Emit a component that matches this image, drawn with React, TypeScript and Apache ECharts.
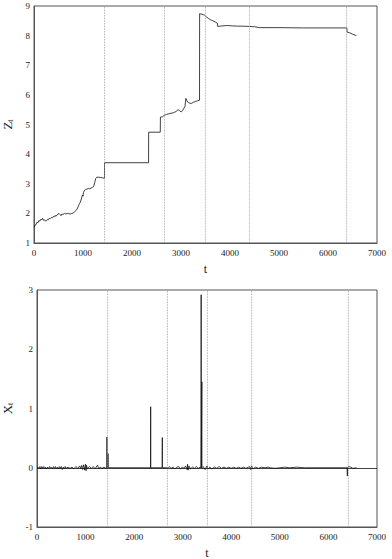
import React, { useEffect, useRef } from "react";
import * as echarts from "echarts";

// Top panel: Z_t  [t, value]
const zSeries: [number, number][] = [
  [0, 1.53], [20, 1.6], [40, 1.62], [60, 1.7], [80, 1.68], [100, 1.76], [120, 1.74], [140, 1.8],
  [160, 1.79], [175, 1.83], [190, 1.77], [210, 1.79], [230, 1.74], [250, 1.75], [270, 1.79],
  [290, 1.78], [310, 1.83], [330, 1.82], [350, 1.86], [370, 1.85], [390, 1.89], [410, 1.88],
  [430, 1.93], [450, 1.9], [470, 1.95], [490, 1.97], [510, 2.0], [530, 1.96], [550, 1.92],
  [570, 1.98], [590, 1.96], [620, 2.0], [650, 1.98], [680, 2.0], [710, 1.99], [740, 1.98],
  [770, 2.0], [800, 2.01], [830, 2.06], [860, 2.1], [880, 2.15], [900, 2.22], [920, 2.3],
  [940, 2.36], [960, 2.45], [975, 2.55], [990, 2.62], [1000, 2.58], [1010, 2.7], [1030, 2.78],
  [1050, 2.8], [1080, 2.82], [1110, 2.84], [1140, 2.83], [1170, 2.86], [1200, 2.88], [1220, 2.92],
  [1240, 3.05], [1260, 3.18], [1280, 3.22], [1320, 3.22], [1360, 3.21], [1400, 3.2], [1438, 3.18],
  [1440, 3.71], [2338, 3.71], [2340, 4.74], [2577, 4.74], [2580, 5.25], [2620, 5.26], [2660, 5.31],
  [2700, 5.34], [2750, 5.36], [2800, 5.38], [2850, 5.4], [2900, 5.44], [2940, 5.5], [2970, 5.47],
  [3000, 5.42], [3030, 5.46], [3060, 5.55], [3080, 5.6], [3100, 5.88], [3120, 5.8], [3150, 5.74],
  [3180, 5.72], [3210, 5.71], [3250, 5.75], [3300, 5.78], [3340, 5.8], [3378, 5.82], [3380, 8.74],
  [3450, 8.71], [3480, 8.69], [3520, 8.63], [3560, 8.58], [3600, 8.54], [3650, 8.5], [3700, 8.46],
  [3740, 8.42], [3750, 8.31], [3800, 8.32], [3850, 8.33], [3950, 8.34], [4050, 8.33], [4150, 8.32],
  [4250, 8.32], [4400, 8.31], [4500, 8.3], [4600, 8.27], [5000, 8.27], [5500, 8.26], [6000, 8.26],
  [6385, 8.26], [6390, 8.12], [6450, 8.09], [6500, 8.05], [6580, 8.0],
];

// Bottom panel: X_t  [t, value]
const xSeries: [number, number][] = [
  [0, 0], [20, 0.01], [40, -0.01], [60, 0.02], [80, -0.02], [100, 0.02], [120, -0.01], [140, 0.02],
  [160, -0.02], [180, 0.01], [200, -0.02], [220, 0.01], [240, -0.01], [260, 0.02], [280, -0.01],
  [300, 0.01], [320, -0.02], [340, 0.02], [360, -0.01], [380, 0.02], [400, -0.02], [420, 0.01],
  [440, -0.02], [460, 0.02], [480, -0.01], [500, 0.02], [520, -0.03], [540, 0.01], [560, -0.02],
  [580, 0.02], [600, -0.01], [640, 0.01], [680, -0.01], [720, 0.01], [760, -0.02], [800, 0.02],
  [840, -0.01], [880, 0.03], [900, -0.02], [920, 0.04], [940, -0.03], [960, 0.05], [980, -0.04],
  [1000, 0.06], [1010, -0.05], [1020, 0.04], [1040, -0.02], [1080, 0.02], [1120, -0.01],
  [1160, 0.02], [1200, -0.02], [1230, 0.03], [1250, 0.04], [1270, -0.02], [1300, 0.01],
  [1340, -0.01], [1380, 0.01], [1420, -0.01], [1438, 0], [1440, 0.52], [1442, 0], [1460, 0],
  [1462, 0.24], [1464, 0], [1480, 0.01], [1500, 0], [2338, 0], [2340, 1.03], [2342, 0],
  [2577, 0], [2580, 0.51], [2582, 0], [2700, 0], [2720, 0.02], [2760, -0.01], [2800, 0.01],
  [2840, -0.02], [2880, 0.01], [2920, 0.02], [2950, -0.02], [2990, 0.01], [3030, -0.01],
  [3060, 0.03], [3090, -0.03], [3100, 0.06], [3110, -0.04], [3130, 0.03], [3160, -0.02],
  [3200, 0.01], [3240, -0.01], [3280, 0.02], [3320, -0.01], [3360, 0.01], [3378, 0], [3380, 2.92],
  [3382, 0], [3392, 0], [3394, 1.45], [3396, 0], [3420, 0.02], [3460, -0.03], [3500, 0.03],
  [3520, -0.02], [3560, 0.01], [3600, -0.02], [3650, 0.01], [3700, -0.01], [3750, 0.02],
  [3800, -0.01], [3850, 0.01], [3900, -0.01], [3950, 0.01], [4000, -0.01], [4050, 0.01],
  [4100, -0.01], [4150, 0.01], [4200, -0.01], [4250, 0.01], [4300, -0.01], [4380, 0.02],
  [4400, -0.03], [4420, 0.03], [4440, -0.02], [4500, 0.01], [4560, -0.01], [4620, 0.01],
  [4700, 0], [4760, 0.01], [4800, 0], [4900, -0.01], [5000, 0], [5100, 0.01], [5200, 0],
  [5350, 0.01], [5500, 0], [6385, 0], [6390, -0.14], [6392, 0], [6420, 0.02], [6460, 0.01],
  [6500, -0.01], [6580, 0],
];

// Vertical dotted reference lines (t positions)
const breakTop = [1438, 2660, 3490, 4400, 6380];
const breakBottom = [1440, 2675, 3505, 4420, 6400];

const xTicks = { min: 0, max: 7000, interval: 1000 };
const topY = { min: 1, max: 9, interval: 1 };
const bottomY = { min: -1, max: 3, interval: 1 };

const FONT = "'Liberation Serif', 'Times New Roman', 'DejaVu Serif', serif";

export default function App() {
  const ref = useRef<HTMLDivElement>(null);
  useEffect(() => {
    document.body.style.margin = "0";
    if (!ref.current) return;
    const chart = echarts.init(ref.current, undefined, { renderer: "svg" });
    const fmt = (v: number) => String(v);
    const axisLabel = { fontFamily: FONT, fontSize: 9, color: "#222", margin: 5, formatter: fmt };
    const xAxisBase = {
      type: "value",
      min: xTicks.min,
      max: xTicks.max,
      interval: xTicks.interval,
      axisLine: { show: true, onZero: false, lineStyle: { color: "#555", width: 1 } },
      axisTick: { show: false },
      splitLine: { show: false },
      axisLabel,
      name: "t",
      nameLocation: "middle",
      nameGap: 20,
      nameTextStyle: { fontFamily: FONT, fontSize: 12, color: "#222" },
    };
    const yAxisBase = {
      type: "value",
      axisLine: { show: true, onZero: false, lineStyle: { color: "#555", width: 1 } },
      axisTick: { show: false },
      splitLine: { show: false },
      axisLabel: { ...axisLabel, margin: 4 },
      nameLocation: "middle",
      nameRotate: 90,
      nameGap: 20,
    };
    const rich = {
      a: { fontFamily: FONT, fontSize: 13, color: "#222" },
      b: { fontFamily: FONT, fontSize: 8, color: "#222", padding: [6, 0, 0, 0] },
    };
    const dotted = (vals: number[]) => ({
      silent: true,
      symbol: ["none", "none"],
      label: { show: false },
      lineStyle: { color: "#999", type: "dotted", width: 0.8 },
      data: vals.map((v) => ({ xAxis: v })),
    });
    chart.setOption({
      animation: false,
      backgroundColor: "#fff",
      textStyle: { fontFamily: FONT },
      grid: [
        {
          left: 34, top: 6, width: 343, height: 237, show: true, borderColor: "#555", borderWidth: 1,
          containLabel: false, outerBoundsMode: "none",
        },
        {
          left: 37, top: 290, width: 340, height: 237, show: true, borderColor: "#555", borderWidth: 1,
          containLabel: false, outerBoundsMode: "none",
        },
      ],
      xAxis: [
        { ...xAxisBase, gridIndex: 0 },
        { ...xAxisBase, gridIndex: 1, nameGap: 20 },
      ],
      yAxis: [
        {
          ...yAxisBase,
          gridIndex: 0,
          min: topY.min,
          max: topY.max,
          interval: topY.interval,
          name: "{a|Z}{b|t}",
          nameTextStyle: { rich },
        },
        {
          ...yAxisBase,
          gridIndex: 1,
          min: bottomY.min,
          max: bottomY.max,
          interval: bottomY.interval,
          name: "{a|X}{b|t}",
          nameGap: 22,
          nameTextStyle: { rich },
        },
      ],
      series: [
        {
          type: "line",
          xAxisIndex: 0,
          yAxisIndex: 0,
          data: zSeries,
          showSymbol: false,
          lineStyle: { color: "#111", width: 0.8 },
          markLine: dotted(breakTop),
        },
        {
          type: "line",
          xAxisIndex: 1,
          yAxisIndex: 1,
          data: xSeries,
          showSymbol: false,
          lineStyle: { color: "#111", width: 0.8 },
          markLine: {
            ...dotted(breakBottom),
            data: [
              ...breakBottom.map((v) => ({ xAxis: v })),
              { yAxis: 0, lineStyle: { color: "#111", type: "solid", width: 0.8 } },
            ],
          },
        },
      ],
    });
    return () => chart.dispose();
  }, []);
  return <div ref={ref} style={{ width: 392, height: 559 }} />;
}
